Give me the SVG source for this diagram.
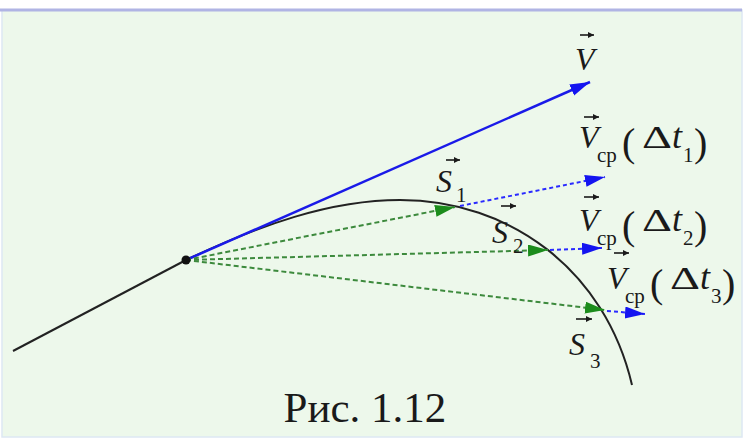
<svg xmlns="http://www.w3.org/2000/svg" width="745" height="440" viewBox="0 0 745 440">
<style>
.it{font-style:italic;font-size:32px}
.rm{font-size:32px}
.sub{font-size:21px}
.par{font-size:40px}
.acc{stroke:#1a1a1a;stroke-width:1.6;fill:none;marker-end:url(#accHead)}
.gd{stroke:#3d8a3d;stroke-width:2;stroke-dasharray:5 3;fill:none;marker-end:url(#gHead)}
.bd{stroke:#2a2aff;stroke-width:2;stroke-dasharray:4 3;fill:none;marker-end:url(#bHead)}
</style>
<defs>
<marker id="bHead" markerUnits="userSpaceOnUse" markerWidth="22" markerHeight="14" refX="20" refY="6" orient="auto"><path d="M0,0 L20,6 L0,12 Z" fill="#1414f0"/></marker>
<marker id="gHead" markerUnits="userSpaceOnUse" markerWidth="22" markerHeight="14" refX="20" refY="6" orient="auto"><path d="M0,0 L20,6 L0,12 Z" fill="#1c8c1c"/></marker>
<marker id="accHead" markerUnits="userSpaceOnUse" markerWidth="8" markerHeight="8" refX="6" refY="3" orient="auto"><path d="M0,0 L6,3 L0,6 Z" fill="#1a1a1a"/></marker>
</defs>
<rect x="0" y="0" width="745" height="440" fill="#ffffff"/>
<rect x="2" y="10" width="740" height="427" fill="#edf8eb" stroke="#dde8f3" stroke-width="1.5"/>
<line x1="0" y1="10" x2="742" y2="10" stroke="#b0b4e4" stroke-width="3"/>

<g id="connectors">
  <line x1="13" y1="351" x2="186" y2="260" stroke="#222" stroke-width="2"/>
  <path d="M186,260 C260,225 330,200 400,200 C510,200 605,270 632,385" fill="none" stroke="#222" stroke-width="2"/>
  <line x1="186" y1="260" x2="590" y2="82" stroke="#1a1ae8" stroke-width="2.5" marker-end="url(#bHead)"/>
  <line class="gd" x1="186" y1="260" x2="455" y2="207"/>
  <line class="gd" x1="186" y1="260" x2="548" y2="250"/>
  <line class="gd" x1="186" y1="260" x2="605" y2="310"/>
  <line class="bd" x1="460" y1="206" x2="605" y2="177"/>
  <line class="bd" x1="550" y1="250" x2="602" y2="248"/>
  <line class="bd" x1="607" y1="311" x2="645" y2="314"/>
</g>

<g id="point"><circle cx="186" cy="260" r="4.5" fill="#111"/></g>

<g id="labels" font-family="Liberation Serif, serif" fill="#1a1a1a">
<g id="label-V">
  <line class="acc" x1="580" y1="35" x2="594" y2="35"/>
  <text class="it" x="575" y="70">V</text>
</g>

<g id="label-Vcp1" transform="translate(579,148)">
  <line class="acc" x1="5" y1="-31" x2="20" y2="-31"/>
  <text class="it" x="0" y="0">V</text>
  <text class="sub" x="18" y="14">ср</text>
  <text class="par" x="43" y="8">(</text>
  <text class="rm" x="63" y="0" textLength="30" lengthAdjust="spacingAndGlyphs">Δ</text>
  <text class="it" x="93" y="0" style="font-size:36px">t</text>
  <text class="sub" x="104" y="14">1</text>
  <text class="par" x="115" y="8">)</text>
</g>

<g id="label-Vcp2" transform="translate(579,231)">
  <line class="acc" x1="5" y1="-34" x2="20" y2="-34"/>
  <text class="it" x="0" y="0">V</text>
  <text class="sub" x="18" y="14">ср</text>
  <text class="par" x="43" y="8">(</text>
  <text class="rm" x="63" y="0" textLength="30" lengthAdjust="spacingAndGlyphs">Δ</text>
  <text class="it" x="93" y="0" style="font-size:36px">t</text>
  <text class="sub" x="104" y="14">2</text>
  <text class="par" x="115" y="8">)</text>
</g>

<g id="label-Vcp3" transform="translate(607,289)">
  <line class="acc" x1="7" y1="-36" x2="22" y2="-36"/>
  <text class="it" x="0" y="0">V</text>
  <text class="sub" x="18" y="14">ср</text>
  <text class="par" x="43" y="8">(</text>
  <text class="rm" x="63" y="0" textLength="30" lengthAdjust="spacingAndGlyphs">Δ</text>
  <text class="it" x="93" y="0" style="font-size:36px">t</text>
  <text class="sub" x="104" y="14">3</text>
  <text class="par" x="115" y="8">)</text>
</g>

<g id="label-S1">
  <line class="acc" x1="446" y1="160" x2="460" y2="160"/>
  <text class="it" x="436" y="192">S</text>
  <text class="sub" x="456" y="202">1</text>
</g>

<g id="label-S2">
  <line class="acc" x1="501" y1="206" x2="516" y2="206"/>
  <text class="it" x="492" y="243">S</text>
  <text class="sub" x="513" y="253">2</text>
</g>

<g id="label-S3">
  <line class="acc" x1="576" y1="319" x2="592" y2="319"/>
  <text class="it" x="569" y="355">S</text>
  <text class="sub" x="590" y="368">3</text>
</g>

<g id="caption">
  <text class="rm" x="365" y="422" text-anchor="middle" style="font-size:43px">Рис. 1.12</text>
</g>
</g>
</svg>
